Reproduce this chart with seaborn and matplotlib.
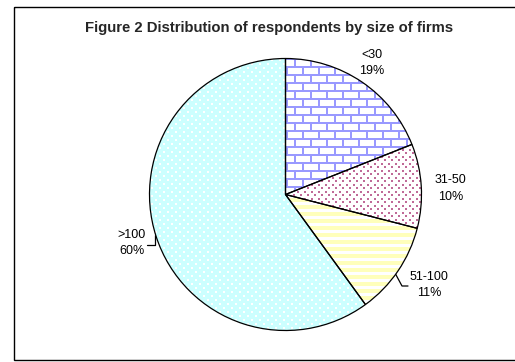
import numpy as np
import matplotlib
matplotlib.use("Agg")
import matplotlib.pyplot as plt
import seaborn as sns
from matplotlib.colors import to_rgb
from matplotlib.patches import Rectangle

sns.set_style("white")
plt.rcParams["font.family"] = ["Liberation Sans", "DejaVu Sans"]

# ---- data ----
categories = ["<30", "31-50", "51-100", ">100"]
shares = [19, 10, 11, 60]
title = "Figure 2 Distribution of respondents by size of firms"

# ---- layout (figure pixels) ----
W, H = 515, 362
cx, cy, r = 285.5, 194.5, 136
label_pos = [(372, 63), (450.5, 188.5), (429, 285), (132, 243)]
leaders = [None, None, [(395, 273), (402, 286), (408, 286)],
           [(155, 235), (155, 245), (147, 245)]]


def tex_bricks(h, w):
    img = np.ones((h, w, 3))
    m = np.array(to_rgb("#9999FF"))
    yy, xx = np.mgrid[0:h, 0:w]
    row = yy // 8
    horiz = (yy % 8) < 2
    vert = ((xx + (row % 2) * 8) % 16) < 2
    img[horiz | vert] = m
    return img


def tex_dots(h, w, base, dot, period=8, size=2, off=0):
    img = np.ones((h, w, 3)) * np.array(to_rgb(base))
    yy, xx = np.mgrid[0:h, 0:w]
    a = (((yy - off) % period) < size) & (((xx - off) % period) < size)
    half = period // 2
    b = (((yy - off - half) % period) < size) & (((xx - off - half) % period) < size)
    img[a | b] = np.array(to_rgb(dot))
    return img


def tex_stripes(h, w, c1, c2, period=7):
    img = np.ones((h, w, 3)) * np.array(to_rgb(c2))
    yy = np.mgrid[0:h, 0:w][0]
    img[(yy % period) < 4] = np.array(to_rgb(c1))
    return img


fig = plt.figure(figsize=(W / 100, H / 100), dpi=100)
fig.patch.set_facecolor("white")

# overlay axes in pixel coordinates
ov = fig.add_axes([0, 0, 1, 1])
ov.set_xlim(0, W)
ov.set_ylim(H, 0)
ov.axis("off")
ov.add_patch(Rectangle((14, 6.5), 520, 353.5, fill=False, edgecolor="black",
                       linewidth=1.0, clip_on=False))

side = 2 * r
ax = fig.add_axes([(cx - r) / W, (H - (cy + r)) / H, side / W, side / H])
wedges, _ = ax.pie(shares, startangle=90, counterclock=False, radius=1,
                   wedgeprops=dict(facecolor="none", edgecolor="black",
                                   linewidth=0.9))
ax.set_xlim(-1, 1)
ax.set_ylim(-1, 1)
ax.set_aspect("auto")
ax.axis("off")

n = int(side)
textures = [
    tex_bricks(n, n),
    tex_dots(n, n, "#FFFFFF", "#C06A98", period=7, size=2),
    tex_stripes(n, n, "#FFFFBB", "#FFFFFF", period=7),
    tex_dots(n, n, "#CCFFFF", "#FFFFFF", period=8, size=2, off=1),
]
for wdg, tex in zip(wedges, textures):
    wdg.set_clip_on(False)
    wdg.set_zorder(3)
    im = ax.imshow(tex, extent=(-1, 1, -1, 1), origin="upper",
                   interpolation="nearest", aspect="auto", zorder=1)
    im.set_clip_path(wdg)

for cat, val, (lx, ly) in zip(categories, shares, label_pos):
    ov.text(lx, ly, f"{cat}\n{val}%", ha="center", va="center",
            multialignment="center", fontsize=9, linespacing=1.5,
            color="black")

for ld in leaders:
    if ld:
        xs, ys = zip(*ld)
        ov.plot(xs, ys, color="black", linewidth=0.9)

fig.text(269 / W, 1 - 28 / H, title, ha="center", va="center",
         fontsize=10.7, fontweight="bold")

fig.savefig("out.png", dpi=100)
